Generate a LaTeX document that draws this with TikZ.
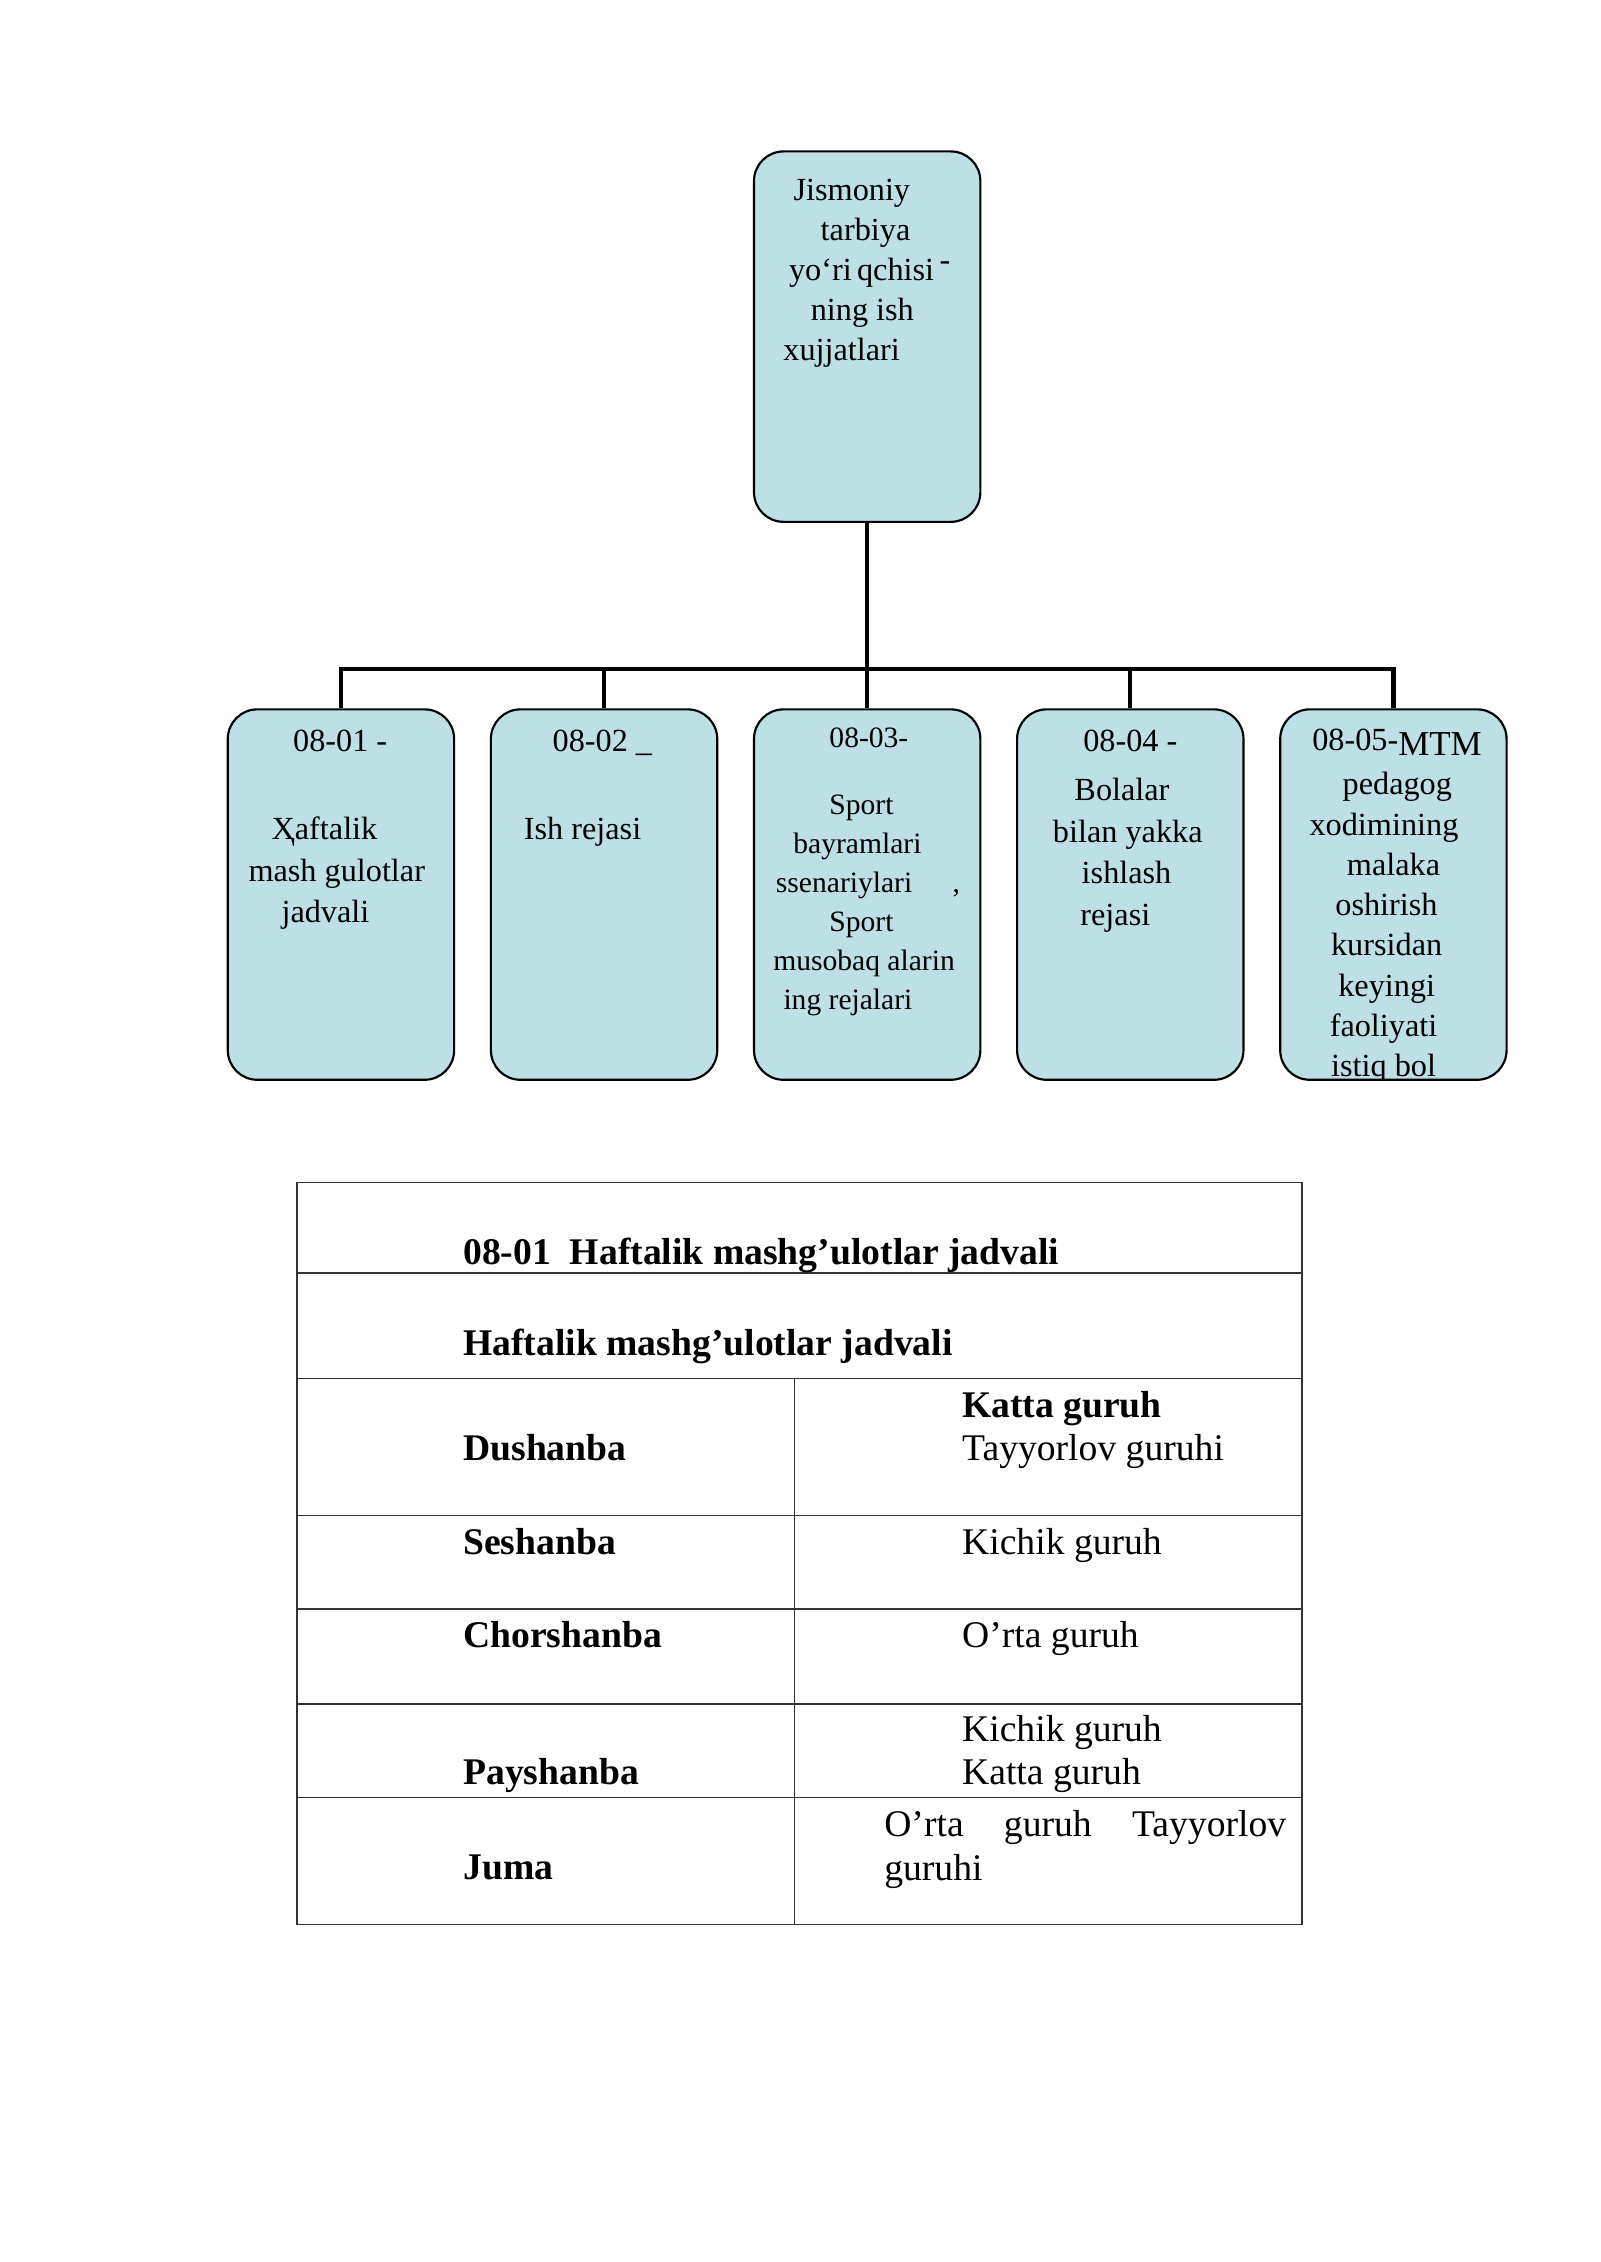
\documentclass[tikz,border=0pt]{standalone}
\usepackage{fontspec}
\setmainfont{Liberation Serif}
\definecolor{cardblue}{RGB}{188,224,228}
\tikzset{
  card/.style={draw, fill=cardblue, line width=0.8pt, rounded corners=11pt,
    minimum width=84.2pt, minimum height=137.8pt, inner sep=0pt},
  txt/.style={anchor=base west, inner sep=0pt, align=left,
    font=\fontsize{12}{15.5}\selectfont},
  small/.style={txt, font=\fontsize{11}{14.5}\selectfont},
  cell/.style={anchor=base west, inner sep=0pt, align=left,
    font=\fontsize{14}{16.1}\selectfont},
  head/.style={cell, font=\fontsize{14}{16.1}\selectfont\bfseries},
  link/.style={line width=1.6pt},
  grid/.style={line width=0.5pt, black!80},
}

\begin{document}
\begin{tikzpicture}[x=0.5363pt, y=-0.5363pt]
\useasboundingbox (0,0) rectangle (1110,1569);

% boxes
\node[card] (top) at (601.5,233.5) {};
\foreach \i/\x in {1/236.5, 2/419, 3/601.5, 4/784, 5/966.5}
  \node[card] (d\i) at (\x,620.5) {};

% connectors
\coordinate (bar) at (601.5,464);
\draw[link] (top.south) -- (bar);
\draw[link] (d1.north) |- (bar) -| (d5.north);
\foreach \i in {2,3,4}
  \draw[link] (d\i.north) -- (d\i.north |- bar);

% box texts (placed at the baseline of their last line)
\node[txt, font=\fontsize{12}{14.9}\selectfont] (t0) at (543,250)
  {\hspace*{3.8pt}Jismoniy\\\hspace*{13.9pt}tarbiya\\
   \hspace*{2.1pt}yo‘ri\,qchisi\,\raisebox{3.5pt}{-}\\
   \hspace*{10.2pt}ning ish\\xujjatlari};
\node[txt] (t1) at (172,640)
  {\hspace*{16.6pt}08-01 -\\[17pt]\hspace*{8.6pt}Ҳaftalik\\
   mash gulotlar\\\hspace*{12.3pt}jadvali};
\node[txt] (t2) at (363,582) {\hspace*{10.7pt}08-02 \_\\[17pt]Ish rejasi};
\node[small] (t3) at (536,700)
  {\hspace*{20.9pt}08-03-\\[10.2pt]\hspace*{20.9pt}Sport\\
   \hspace*{7.5pt}bayramlari\\\hspace*{1pt}ssenariylari\hspace*{15pt},\\
   \hspace*{20.9pt}Sport\\musobaq\ alarin\\\hspace*{3.8pt}ing rejalari};
\node[txt] (t4) at (730,642)
  {\hspace*{11.3pt}08-04 -\\[2.7pt]\hspace*{8pt}Bolalar\\bilan yakka\\
   \hspace*{10.7pt}ishlash\\\hspace*{10.2pt}rejasi};
\begin{scope}
  \clip[rounded corners=11pt] (d5.south west) rectangle (d5.north east);
  \node[txt, font=\fontsize{12}{15}\selectfont] (t5) at (908,747)
    {\hspace*{1pt}08-05-\raisebox{-2pt}{\fontsize{13}{15}\selectfont MTM}\\[1.6pt]
     \hspace*{12.3pt}pedagog\\xodimining\\\hspace*{13.9pt}malaka\\
     \hspace*{9.6pt}oshirish\\\hspace*{8pt}kursidan\\\hspace*{10.7pt}keyingi\\
     \hspace*{7.5pt}faoliyati\\\hspace*{8pt}istiq bol};
\end{scope}

% table
\draw[grid] (206,820) rectangle (903,1335);
\foreach \y in {883,956,1051,1116,1182,1247}
  \draw[grid] (206,\y) -- (903,\y);
\draw[grid] (551,956) -- (551,1335);

\node[head] (title) at (321,877) {08-01\ \ Haftalik mashg’ulotlar jadvali};
\node[head] (sub) at (321,940) {Haftalik mashg’ulotlar jadvali};
\node[head] (mon) at (321,1013) {Dushanba};
\node[cell] (monG) at (667,1013) {\textbf{Katta guruh}\\Tayyorlov guruhi};
\node[head] (tue) at (321,1078) {Seshanba};
\node[cell] (tueG) at (667,1078) {Kichik guruh};
\node[head] (wed) at (321,1143) {Chorshanba};
\node[cell] (wedG) at (667,1143) {O’rta guruh};
\node[head] (thu) at (321,1238) {Payshanba};
\node[cell] (thuG) at (667,1238) {Kichik guruh\\Katta guruh};
\node[head] (fri) at (321,1304) {Juma};
\node[cell, text width=149.5pt, align=justify] (friG) at (613,1274)
  {O’rta guruh \mbox{Tayyorlov} \mbox{guruhi}};
\end{tikzpicture}
\end{document}
